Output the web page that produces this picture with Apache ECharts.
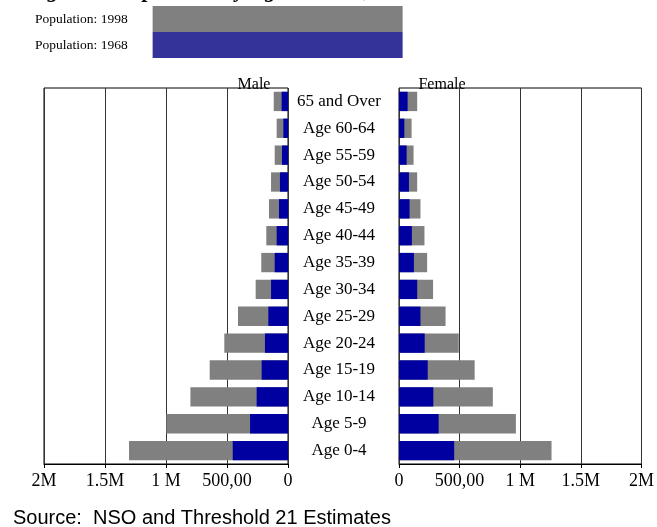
<!DOCTYPE html>
<html>
<head>
<meta charset="utf-8">
<script src="https://cdn.jsdelivr.net/npm/echarts@6/dist/echarts.min.js"></script>
<style>
    html, body { margin: 0; padding: 0; background: #fff; }
    #pyramid { width: 657px; height: 527px; }
</style>
</head>
<body>
<div id="pyramid"></div>
<script>
    // age groups, bottom to top
    var ageGroups = ["Age 0-4", "Age 5-9", "Age 10-14", "Age 15-19", "Age 20-24", "Age 25-29", "Age 30-34",
        "Age 35-39", "Age 40-44", "Age 45-49", "Age 50-54", "Age 55-59", "Age 60-64", "65 and Over"];

    var male1998 = [1303000, 997000, 800000, 642000, 522000, 410000, 265000, 219000, 178000, 156000, 139000, 109000, 93000, 117000];
    var male1968 = [453000, 311000, 257000, 216000, 189000, 161000, 139000, 109000, 93000, 74000, 66000, 49000, 38000, 52000];
    var female1998 = [1258000, 964000, 774000, 624000, 493000, 384000, 281000, 232000, 210000, 177000, 150000, 120000, 104000, 150000];
    var female1968 = [455000, 327000, 283000, 237000, 212000, 177000, 150000, 123000, 106000, 87000, 82000, 63000, 44000, 71000];

    var tickValues = [0, 500000, 1000000, 1500000, 2000000];
    var tickLabels = ["0", "500,00", "1 M", "1.5M", "2M"];

    var serif = "Liberation Serif";

    function tickFormatter(v) {
        var i = tickValues.indexOf(v);
        return i >= 0 ? tickLabels[i] : "";
    }

    var chart = echarts.init(document.getElementById("pyramid"));

    var valueAxis = function (grid, inverse) {
        return {
            type: "value",
            gridIndex: grid,
            inverse: inverse,
            min: 0,
            max: 2000000,
            interval: 500000,
            axisLine: { show: true, lineStyle: { color: "#000", width: 1 } },
            axisTick: { show: true, length: 4, inside: false, lineStyle: { color: "#000" } },
            splitLine: { show: true, lineStyle: { color: "#333", width: 1 } },
            axisLabel: { formatter: tickFormatter, color: "#000", fontFamily: serif, fontSize: 18, margin: 8 }
        };
    };

    chart.setOption({
        animation: false,
        title: [
            {
                text: "Figure 3: Population by Age and Sex, Malawi 1968-1998",
                left: 22, top: -25,
                textStyle: { fontFamily: serif, fontStyle: "italic", fontWeight: "bold", fontSize: 22, color: "#000" }
            },
            {
                text: "Male", left: 249, top: 72, textAlign: "center",
                textStyle: { fontFamily: serif, fontWeight: "normal", fontSize: 16, color: "#000" }
            },
            {
                text: "Female", left: 437, top: 72, textAlign: "center",
                textStyle: { fontFamily: serif, fontWeight: "normal", fontSize: 16, color: "#000" }
            },
            {
                text: "Source:  NSO and Threshold 21 Estimates", left: 8, top: 503,
                textStyle: { fontFamily: "Liberation Sans", fontWeight: "normal", fontSize: 20, color: "#000" }
            }
        ],
        legend: {
            orient: "vertical",
            left: 35,
            top: 6,
            padding: 0,
            align: "right",
            itemWidth: 250,
            itemHeight: 26,
            itemGap: 0,
            icon: "rect",
            selectedMode: false,
            textStyle: { fontFamily: serif, fontSize: 13.5, color: "#000", padding: [0, 20, 0, 0] },
            data: [
                { name: "Population: 1998", itemStyle: { color: "#808080" } },
                { name: "Population: 1968", itemStyle: { color: "#333399" } }
            ]
        },
        grid: [
            { left: 44, right: 369, top: 88, bottom: 63, show: true, borderColor: "#000", borderWidth: 1 },
            { left: 399, right: 13, top: 88, bottom: 63, show: true, borderColor: "#000", borderWidth: 1 }
        ],
        xAxis: [valueAxis(0, true), valueAxis(1, false)],
        yAxis: [
            {
                type: "category", gridIndex: 0, position: "right", data: ageGroups,
                axisLine: { show: false }, axisTick: { show: false },
                axisLabel: { align: "center", margin: 51, color: "#000", fontFamily: serif, fontSize: 17 }
            },
            {
                type: "category", gridIndex: 1, position: "left", data: ageGroups,
                axisLine: { show: false }, axisTick: { show: false }, axisLabel: { show: false }
            }
        ],
        series: [
            {
                name: "Population: 1998", type: "bar", xAxisIndex: 0, yAxisIndex: 0,
                data: male1998, barWidth: "72%", barGap: "-100%", itemStyle: { color: "#808080" }
            },
            {
                name: "Population: 1968", type: "bar", xAxisIndex: 0, yAxisIndex: 0,
                data: male1968, barWidth: "72%", barGap: "-100%", itemStyle: { color: "#0000a0" }
            },
            {
                name: "Population: 1998", type: "bar", xAxisIndex: 1, yAxisIndex: 1,
                data: female1998, barWidth: "72%", barGap: "-100%", itemStyle: { color: "#808080" }
            },
            {
                name: "Population: 1968", type: "bar", xAxisIndex: 1, yAxisIndex: 1,
                data: female1968, barWidth: "72%", barGap: "-100%", itemStyle: { color: "#0000a0" }
            }
        ]
    });
</script>
</body>
</html>
